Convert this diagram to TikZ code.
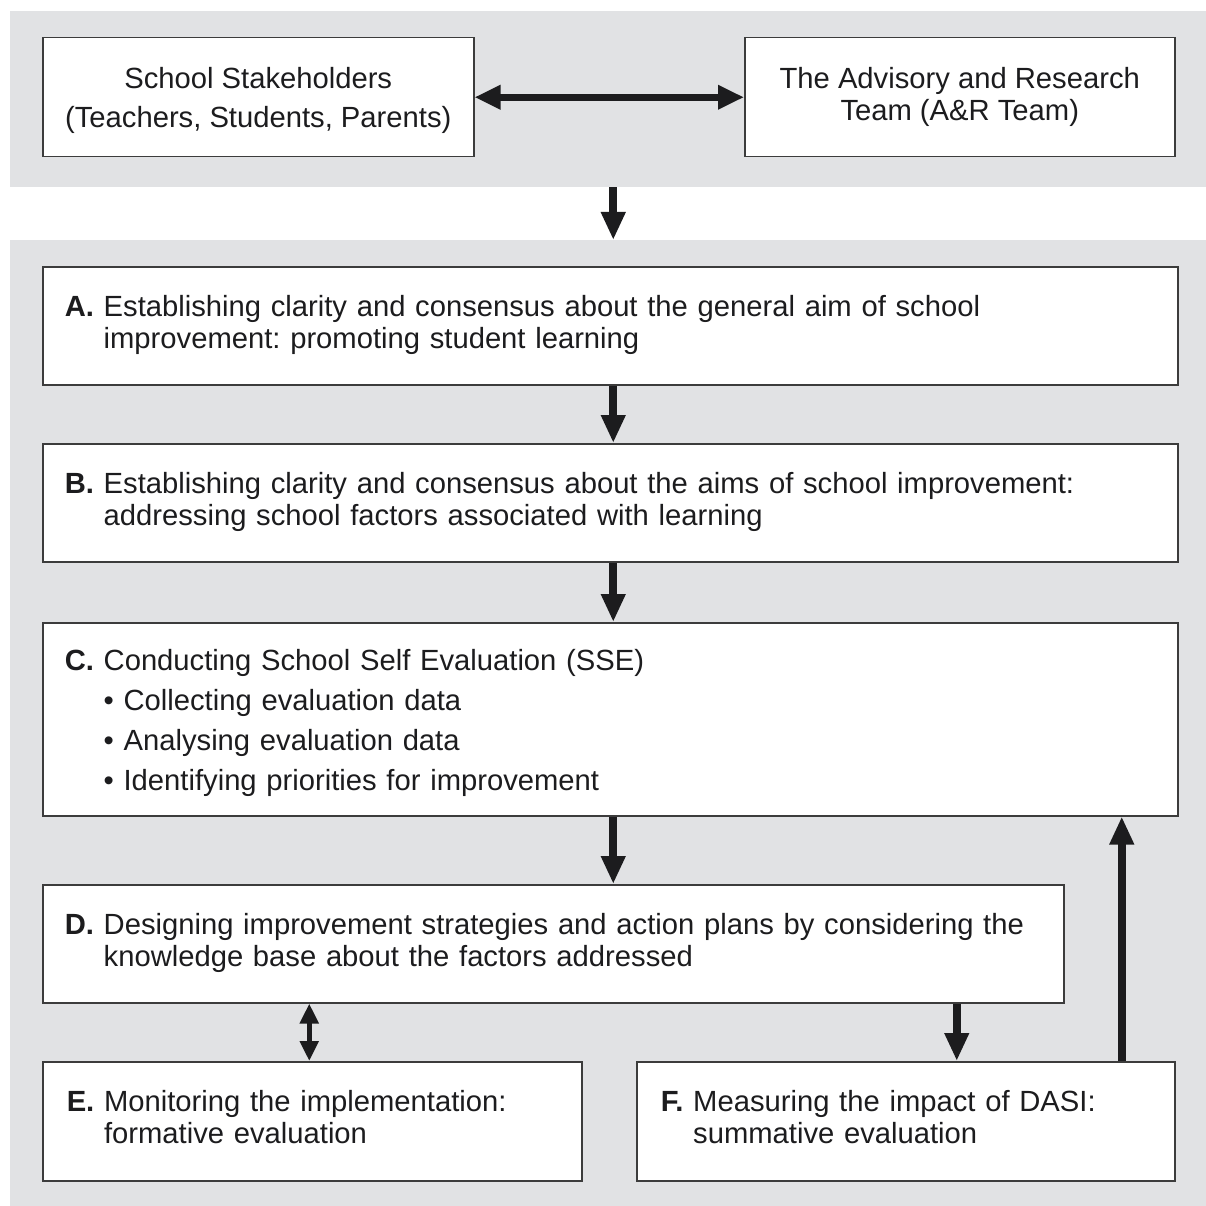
\documentclass[tikz,border=0pt]{standalone}
\usepackage{fontspec}
\setmainfont{Liberation Sans}
\usetikzlibrary{arrows.meta}
\definecolor{panelgray}{HTML}{E1E2E4}
\definecolor{boxline}{HTML}{3C3C3C}
\definecolor{inkc}{HTML}{1C1C1E}
\newcommand{\steplbl}[2]{\textbf{#1}~\begin{tabular}[t]{@{}l@{}}#2\end{tabular}}
\begin{document}
\frenchspacing
\begin{tikzpicture}[x=1pt,y=-1pt,
  panel/.style={fill=panelgray, draw=none, anchor=north west, inner sep=0pt},
  stepbox/.style={draw=boxline, line width=1.5pt, fill=white, anchor=north west,
    inner xsep=22pt, inner ysep=0pt, align=left, text=inkc,
    font=\fontsize{29.2}{32}\selectfont\frenchspacing},
  topbox/.style={draw=boxline, line width=1.5pt, fill=white, anchor=north west,
    inner sep=0pt, align=center, text=inkc, font=\fontsize{29.2}{32}\selectfont},
  bigarrow/.style={draw=inkc, line width=8pt, -{Triangle[length=28pt,width=23pt]}},
  bigdouble/.style={draw=inkc, line width=7pt, {Triangle[length=26pt,width=23pt]}-{Triangle[length=26pt,width=23pt]}},
  smalldouble/.style={draw=inkc, line width=5pt, {Triangle[length=20pt,width=18pt]}-{Triangle[length=20pt,width=18pt]}}
]
\useasboundingbox (0,0) rectangle (1206,1206);
\fill[white] (0,0) rectangle (1206,1206);
% panels
\node[panel, minimum width=1196pt, minimum height=176pt] (toppanel) at (10,11) {};
\node[panel, minimum width=1196pt, minimum height=966pt] (mainpanel) at (10,240) {};
% top boxes
\node[topbox, minimum width=431pt, minimum height=119pt] (stake) at (42,37)
  {\rule{0pt}{28pt}School Stakeholders\\[7pt](Teachers, Students, Parents)};
\node[topbox, minimum width=430pt, minimum height=119pt] (ar) at (744,37)
  {The Advisory and Research\\Team (A\&R Team)};
% step boxes
\node[stepbox, text width=1091pt, minimum height=118pt] (A) at (42,266)
  {\steplbl{A.}{Establishing clarity and consensus about the general aim of school\\improvement: promoting student learning}};
\node[stepbox, text width=1091pt, minimum height=118pt] (B) at (42,443)
  {\steplbl{B.}{Establishing clarity and consensus about the aims of school improvement:\\addressing school factors associated with learning}};
\node[stepbox, text width=1091pt, minimum height=193pt] (C) at (42,622)
  {\steplbl{C.}{\rule{0pt}{32pt}Conducting School Self Evaluation (SSE)\\[8pt]\textbullet{} Collecting evaluation data\\[8pt]\textbullet{} Analysing evaluation data\\[8pt]\textbullet{} Identifying priorities for improvement}};
\node[stepbox, text width=977pt, minimum height=118pt] (D) at (42,884)
  {\steplbl{D.}{Designing improvement strategies and action plans by considering the\\knowledge base about the factors addressed}};
\node[stepbox, text width=491pt, inner xsep=24pt, minimum height=119pt] (E) at (42,1061)
  {\steplbl{E.}{Monitoring the implementation:\\formative evaluation}};
\node[stepbox, text width=490pt, inner xsep=24pt, minimum height=119pt] (F) at (636,1061)
  {\steplbl{F.}{Measuring the impact of DASI:\\summative evaluation}};
% connectors
\draw[bigdouble] (stake.east) -- (ar.west);
\draw[bigarrow] ([xshift=3pt]A.north |- toppanel.south) -- ([xshift=3pt]A.north |- mainpanel.north);
\draw[bigarrow] ([xshift=3pt]A.south) -- ([xshift=3pt]B.north);
\draw[bigarrow] ([xshift=3pt]B.south) -- ([xshift=3pt]C.north);
\draw[bigarrow] ([xshift=3pt]C.south) -- ([xshift=3pt]C.south |- D.north);
\draw[smalldouble] ([xshift=-3pt]E.north |- D.south) -- ([xshift=-3pt]E.north);
\draw[bigarrow] ([xshift=51pt]F.north |- D.south) -- ([xshift=51pt]F.north);
\draw[bigarrow] ([xshift=216pt]F.north) -- ([xshift=216pt]F.north |- C.south);
\end{tikzpicture}
\end{document}
